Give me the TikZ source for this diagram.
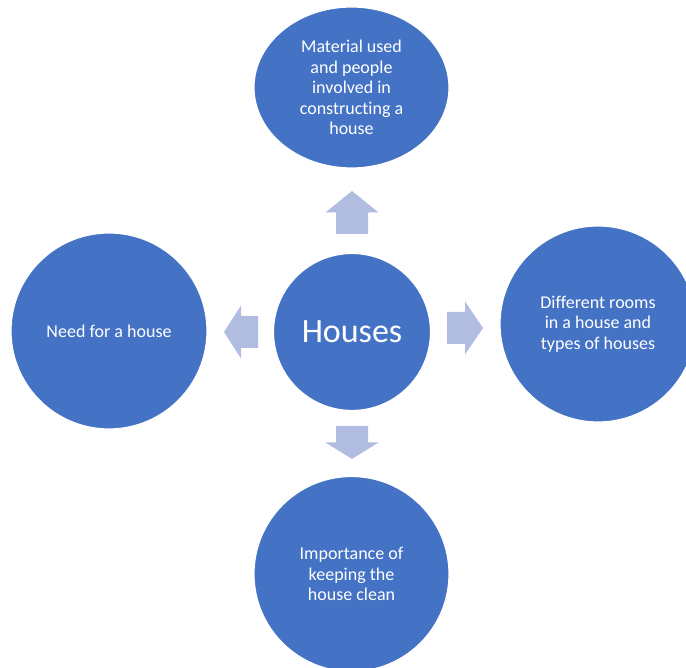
\documentclass[tikz,border=0pt]{standalone}
\usepackage{fontspec}
\setmainfont{Carlito}[Ligatures={NoCommon}]
\usetikzlibrary{shapes.geometric}
\definecolor{blobblue}{HTML}{4472C4}
\definecolor{arrowblue}{HTML}{B0BDE0}
\tikzset{
  bubble/.style={circle, fill=blobblue, draw=white, line width=1.2pt, text=white,
    align=center, inner sep=0pt, font=\fontsize{18}{20.5}\selectfont},
  pics/blockarrow/.style={code={
    \fill[arrowblue] (0,-16) -- (#1/2,-16) -- (#1/2,-26.5) -- (#1,0)
      -- (#1/2,26.5) -- (#1/2,16) -- (0,16) -- cycle;}}
}
\begin{document}
\begin{tikzpicture}[x=1pt,y=1pt]
\useasboundingbox (0,0) rectangle (686,668);
\clip (0,0) rectangle (686,668);
\node[bubble, minimum size=157pt] (hub) at (352,336) {\fontsize{34}{40}\selectfont Houses};
\node[bubble, ellipse, minimum width=195pt, minimum height=161pt] (topc) at (351.5,580.5)
  {Material used\\and people\\involved in\\constructing a\\house};
\node[bubble, minimum size=196pt] (rightc) at (598,344)
  {Different rooms\\in a house and\\types of houses};
\node[bubble, minimum size=196pt] (leftc) at (109,337) {Need for a house};
\node[bubble, minimum size=195pt] (bottomc) at (351.5,94)
  {Importance of\\keeping the\\house clean};
\pic[rotate=90] at (352,434) {blockarrow=43};
\pic at (447,340) {blockarrow=36};
\pic[rotate=180] at (258,336) {blockarrow=34};
\pic[rotate=270] at (352,242) {blockarrow=33};
\end{tikzpicture}
\end{document}
